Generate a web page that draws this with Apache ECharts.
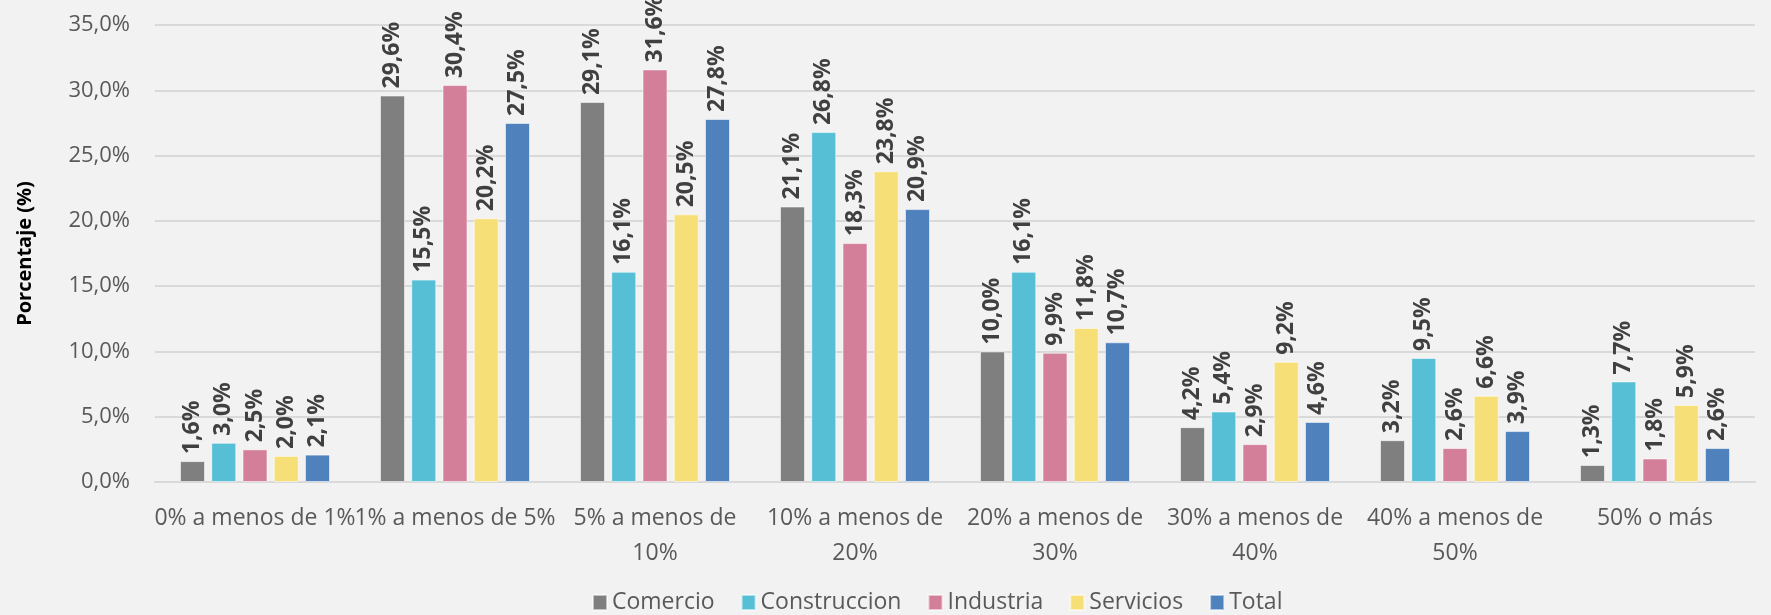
<!DOCTYPE html>
<html>
<head>
<meta charset="utf-8">
<script src="https://cdn.jsdelivr.net/npm/echarts@6/dist/echarts.min.js"></script>
<style>
  html, body { margin: 0; padding: 0; background: #f2f2f2; }
  #chart { width: 1771px; height: 615px; }
</style>
</head>
<body>
<div id="chart"></div>
<script>
// Distribución por tramo de porcentaje, por sector
const categories = [
  '0% a menos de 1%',
  '1% a menos de 5%',
  '5% a menos de\n10%',
  '10% a menos de\n20%',
  '20% a menos de\n30%',
  '30% a menos de\n40%',
  '40% a menos de\n50%',
  '50% o más'
];
const comercio     = [1.6, 29.6, 29.1, 21.1, 10.0, 4.2, 3.2, 1.3];
const construccion = [3.0, 15.5, 16.1, 26.8, 16.1, 5.4, 9.5, 7.7];
const industria    = [2.5, 30.4, 31.6, 18.3, 9.9, 2.9, 2.6, 1.8];
const servicios    = [2.0, 20.2, 20.5, 23.8, 11.8, 9.2, 6.6, 5.9];
const total        = [2.1, 27.5, 27.8, 20.9, 10.7, 4.6, 3.9, 2.6];

const FONT = '"Open Sans", "Noto Sans", sans-serif';
const fmt = v => v.toFixed(1).replace('.', ',') + '%';

const makeSeries = (name, data, color) => ({
  name,
  type: 'bar',
  data,
  barGap: '25%',
  barCategoryGap: '25%',
  itemStyle: { color, borderColor: 'rgba(255,255,255,0.55)', borderWidth: 1 },
  label: {
    show: true,
    position: 'top',
    rotate: 90,
    align: 'left',
    verticalAlign: 'middle',
    distance: 7,
    color: '#404040',
    fontWeight: 'bold',
    fontSize: 23,
    fontFamily: FONT,
    formatter: p => fmt(p.value)
  }
});

const chart = echarts.init(document.getElementById('chart'));
chart.setOption({
  backgroundColor: '#f2f2f2',
  textStyle: { fontFamily: FONT },
  grid: { left: 155, right: 16, top: 25, bottom: 133 },
  legend: {
    left: 587,
    bottom: -4,
    itemWidth: 14,
    itemHeight: 15,
    itemGap: 26,
    icon: 'rect',
    textStyle: { color: '#595959', fontSize: 23, fontFamily: FONT },
    data: ['Comercio', 'Construccion', 'Industria', 'Servicios', 'Total']
  },
  xAxis: {
    type: 'category',
    data: categories,
    axisLine: { lineStyle: { color: '#d9d9d9', width: 2 } },
    axisTick: { show: false },
    axisLabel: { color: '#595959', fontSize: 23, fontFamily: FONT, margin: 19, lineHeight: 35, interval: 0 }
  },
  yAxis: {
    type: 'value',
    min: 0,
    max: 35,
    interval: 5,
    name: 'Porcentaje (%)',
    nameLocation: 'middle',
    nameGap: 120,
    nameTextStyle: { color: '#000', fontWeight: 'bold', fontSize: 20, fontFamily: FONT },
    axisLine: { show: false },
    axisTick: { show: false },
    axisLabel: { color: '#595959', fontSize: 22, fontFamily: FONT, margin: 25, formatter: fmt },
    splitLine: { lineStyle: { color: '#d9d9d9', width: 2 } }
  },
  series: [
    makeSeries('Comercio', comercio, '#7f7f7f'),
    makeSeries('Construccion', construccion, '#56bfd6'),
    makeSeries('Industria', industria, '#d47f99'),
    makeSeries('Servicios', servicios, '#f7df78'),
    makeSeries('Total', total, '#4f81bd')
  ]
});
</script>
</body>
</html>
